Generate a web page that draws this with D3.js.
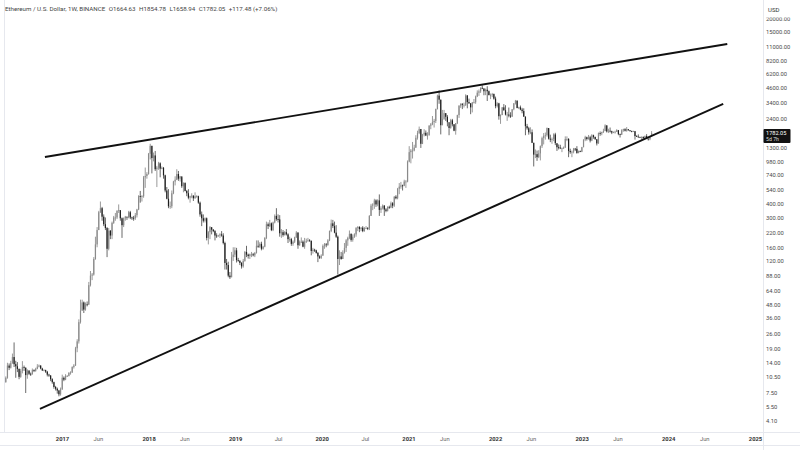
<!DOCTYPE html>
<html><head><meta charset="utf-8">
<script src="https://cdn.jsdelivr.net/npm/d3@7"></script>
<style>
body{margin:0;background:#fff}
svg{display:block;font-family:Roboto,"Liberation Sans",Arial,sans-serif}
</style>
</head><body>
<svg id="chart" width="800" height="450"></svg>
<script>
// ---------- DATA ----------
const startWeek = "2016-05-02";          // Monday of first weekly bar
const firstOpen = 8.9;                   // open of the first bar
// weekly closes (open of each later bar = previous close)
const closes = [
 9.3,10.2,13.2,12.6,13.9, 15.8,13.6,13.0,12.3, 10.4,11.8,12.8,12.6, 10.8,11.9,11.1,11.0,12.0, 11.8,12.3,12.9,13.2, 12.4,11.9,12.0,11.6,10.9, 10.7,9.9,9.3,8.4, 8.1,7.8,7.2,8.0,
 10.2,9.8,10.6,10.6,11.3, 11.4,12.8,13.2,19.0, 22,33,42,50, 43,48,47.5,72, 88,90,125,170,230, 335,365,305,260, 240,155,227,205,268, 300,300,345,350, 295,255,295,305, 300,335,300,298,295, 315,355,470,465, 470,700,720,750,
 1150,1360,1050,1110,830, 860,940,840,855, 730,530,445,380, 380,500,640,665,750, 680,715,580,620, 525,500,455,470, 475,450,470,470,410, 320,295,280,295, 195,220,245,232, 225,205,202,205,210, 205,175,115,110, 88,85,130,137,150,
 122,120,115,107, 120,145,137,133, 138,138,135,142, 165,162,172,155,162, 195,260,250,265, 230,270,310,290, 288,215,220,207,220, 210,190,190,172, 180,197,218,167,180, 180,162,181,183, 185,183,148,152, 150,142,132,128,134,
 165,170,168,185, 225,265,250,218, 200,125,132,125,143, 158,185,195,212, 187,200,210,240, 245,235,242,225,240, 240,238,310,385, 395,430,395,430,352, 365,385,355,345, 375,370,405,385, 465,450,550,575,590, 585,640,640,975,
 1190,1230,1230,1310, 1610,1780,1935,1420, 1725,1790,1690,1690,2080, 2140,2240,2300,2950, 3920,3600,2100,2400,2710, 2510,2240,1985,2330, 2140,1870,2190,2600, 3170,3300,3230,3230,3930, 3420,3330,3060,3390, 3410,3850,4170,4290, 4620,4570,4300,4440,4300, 3960,3960,4050,3680,
 3140,3330,2540,2600,3060, 2880,2630,2630,2570, 2520,2940,3330,3520, 3020,3060,2920,2830, 2520,2060,1970,1810,1810, 1450,1130,1140,1070, 1160,1350,1600,1680, 1700,1980,1580,1550,1570, 1730,1440,1320,1310, 1290,1300,1310,1570,1570, 1220,1190,1200,1280, 1275,1170,1220,1200,
 1320,1550,1630,1570,1630, 1520,1700,1640,1560, 1430,1780,1770,1820, 1860,2090,1840,1870, 1850,1800,1810,1830,1890, 1740,1720,1890,1930, 1870,1930,1890,1860,1830, 1850,1670,1650,1630, 1620,1640,1590,1670, 1580,1560,1664.63,1782.05
];
const highs = [
 9.8,10.5,14.0,13.8,14.6, 17.0,21.5,14.6,14.2, 12.4,12.3,14.5,13.2, 12.7,12.2,11.9,11.4,12.4, 12.2,12.6,13.6,13.5, 13.3,12.6,12.2,12.1,11.8, 11.1,10.8,10.1,9.4, 8.6,8.3,7.9,8.3,
 10.9,10.5,11.0,10.8,11.5, 11.7,13.0,13.6,19.6, 23,35,53,53, 51,50,51,77, 97,93,130,200,245, 345,420,375,320, 300,245,240,230,275, 310,330,350,395, 350,300,300,310, 305,345,345,305,310, 330,360,480,525, 480,720,860,780,
 1170,1420,1360,1180,1220, 890,970,960,880, 870,740,570,545, 420,530,650,715,830, 800,720,700,630, 630,535,545,475, 500,480,510,480,475, 420,340,320,300, 300,225,250,240, 235,230,215,208,215, 225,215,180,125, 118,95,145,160,160,
 158,128,122,117, 125,148,165,140, 140,145,142,145, 185,185,178,180,165, 198,275,270,285, 270,275,320,365, 320,315,235,230,225, 235,215,200,195, 185,200,225,220,185, 197,185,195,192, 195,190,185,158, 155,152,145,135,138,
 170,175,175,190, 228,287,285,275, 255,205,150,145,150, 175,190,200,228, 215,210,215,245, 250,250,245,250,245, 250,245,315,400, 405,445,440,440,488, 380,395,390,365, 380,385,420,415, 470,480,560,620,635, 600,665,660,1000,
 1350,1270,1475,1390, 1700,1870,2040,1940, 1750,1930,1880,1810,2100, 2200,2550,2400,2980, 4000,4380,3600,2900,2900, 2700,2600,2050,2400, 2400,2150,2200,2620, 3200,3330,3340,3380,4030, 3970,3680,3350,3430, 3650,3920,4380,4460, 4670,4870,4550,4550,4780, 4370,4100,4150,4100,
 3840,3410,3370,2640,3080, 3280,3200,2780,3050, 2760,2950,3350,3580, 3550,3100,3180,3030, 3000,2520,2160,2030,2010, 1920,1450,1260,1230, 1240,1370,1650,1780, 1800,2000,1950,1720,1620, 1770,1790,1420,1400, 1390,1310,1340,1660,1660, 1600,1280,1230,1300, 1300,1350,1230,1230,
 1330,1560,1680,1650,1710, 1680,1740,1720,1650, 1570,1800,1840,1830, 1950,2140,2100,1950, 2000,1870,1840,1870,1930, 1900,1760,1930,1950, 1970,2020,1930,1890,1870, 1870,1860,1700,1730, 1650,1660,1660,1690, 1740,1590,1670,1854.78
];
const lows = [
 8.6,9.2,10.0,12.0,12.4, 13.7,12.8,10.2,11.5, 9.9,10.2,11.2,11.8, 7.4,10.0,10.8,10.6,10.9, 11.5,11.6,12.2,12.7, 12.2,11.8,11.7,11.3,10.5, 10.4,9.5,9.0,8.1, 7.8,7.3,6.9,7.0,
 7.9,9.5,9.7,10.4,10.5, 10.9,11.3,12.4,13.1, 17.5,21,32,42, 40,42,46,48, 70,80,88,123,160, 230,330,280,250, 230,130,150,190,190, 262,280,290,330, 280,195,245,280, 285,295,290,285,280, 285,300,350,410, 420,455,560,680,
 740,1020,760,980,800, 570,820,700,830, 680,510,440,365, 360,365,490,590,660, 650,640,560,510, 520,470,440,410, 450,425,445,455,400, 305,250,270,270, 185,170,190,210, 220,185,195,200,195, 200,170,100,100, 85,82,85,120,130,
 116,118,110,102, 104,118,130,126, 125,130,132,130, 140,158,158,150,152, 160,190,235,245, 225,225,265,280, 270,200,195,200,205, 205,175,180,165, 165,175,195,155,165, 175,160,155,175, 180,180,135,140, 145,140,117,125,125,
 134,155,160,165, 182,220,240,215, 195,90,110,123,125, 140,145,165,190, 180,180,195,200, 225,220,225,220,222, 235,230,230,310, 350,360,375,380,310, 330,355,310,335, 340,360,365,365, 375,440,440,490,550, 530,580,560,630,
 960,940,1040,1210, 1300,1550,1740,1300, 1410,1660,1670,1550,1700, 1930,2100,2000,2200, 2930,3300,1730,2100,2350, 2300,2050,1700,1950, 2050,1850,1720,2150, 2450,3030,2950,3050,3150, 3000,3300,2650,2750, 3320,3300,3800,3900, 4150,4500,3950,3960,3500, 3950,3640,3800,3600,
 3000,3050,2360,2160,2600, 2850,2580,2300,2480, 2450,2500,2880,3250, 3000,2950,2880,2700, 2500,1700,1910,1720,1740, 1440,880,1050,990, 1050,1000,1300,1400, 1550,1650,1550,1470,1420, 1500,1380,1220,1260, 1270,1190,1270,1300,1500, 1070,1150,1070,1160, 1220,1150,1160,1190,
 1190,1320,1500,1520,1550, 1460,1500,1580,1550, 1370,1420,1680,1700, 1780,1850,1800,1780, 1800,1740,1780,1760,1820, 1700,1620,1710,1830, 1840,1830,1870,1830,1810, 1820,1550,1640,1620, 1610,1530,1580,1570, 1570,1520,1530,1658.94
];
const yTickValues = [20000,15000,11000,8200,6200,4600,3400,2400,1300,980,740,540,400,300,220,160,120,88,64,48,36,26,19,14,10.5,7.5,5.5,4.1];
const xTickDates = ["2017-01-01","2017-06-01","2018-01-01","2018-06-01","2019-01-01","2019-07-01","2020-01-01","2020-07-01","2021-01-01","2021-06-01","2022-01-01","2022-06-01","2023-01-01","2023-06-01","2024-01-01","2024-06-01","2025-01-01"];
const xTickLabels = ["2017","Jun","2018","Jun","2019","Jul","2020","Jul","2021","Jun","2022","Jun","2023","Jun","2024","Jun","2025"];
const trendUpper = [["2016-10-21",1075],["2024-09-06",11650]];
const trendLower = [["2016-09-30",5.29],["2024-08-20",3287]];
const symbolTitle = "Ethereum / U.S. Dollar, 1W, BINANCE";
const ohlcLabels = ["O1664.63","H1854.78","L1658.94","C1782.05","+117.48 (+7.06%)"];
const lastPrice = 1782.05;
const countdown = "5d 7h";
const currency = "USD";

// ---------- LAYOUT ----------
const W = 800, H = 450;
const plotRight = 763, plotBottom = 432;
const svg = d3.select("#chart");
const parse = d3.utcParse("%Y-%m-%d");

const x = d3.scaleUtc().domain([parse("2017-01-01"), parse("2025-01-01")]).range([62, 755]);
const y = d3.scaleLog().domain([4.1, 15000]).range([421, 32]);

const start = parse(startWeek);
const bars = closes.map((c, i) => ({
  date: d3.utcMonday.offset(start, i),
  o: i === 0 ? firstOpen : closes[i - 1],
  h: highs[i], l: lows[i], c: c
}));

// frame lines
const frame = svg.append("g").attr("stroke", "#e6e8ee").attr("stroke-width", 1);
frame.append("line").attr("x1", 4.5).attr("x2", 4.5).attr("y1", 0).attr("y2", plotBottom);
frame.append("line").attr("x1", 0).attr("x2", W).attr("y1", plotBottom + 0.5).attr("y2", plotBottom + 0.5);
frame.append("line").attr("x1", 0).attr("x2", W).attr("y1", 445.5).attr("y2", 445.5);
frame.append("line").attr("x1", plotRight + 0.5).attr("x2", plotRight + 0.5).attr("y1", 0).attr("y2", H);

// clip
svg.append("clipPath").attr("id", "plotclip").append("rect")
  .attr("x", 5).attr("y", 0).attr("width", plotRight - 5).attr("height", plotBottom);
const plot = svg.append("g").attr("clip-path", "url(#plotclip)");

// candles
const upCol = "#8a8a8a", downCol = "#1e1e1e";
const cg = plot.append("g");
const cs = cg.selectAll("g").data(bars).join("g");
cs.append("line")
  .attr("x1", d => x(d.date)).attr("x2", d => x(d.date))
  .attr("y1", d => y(d.h)).attr("y2", d => y(d.l))
  .attr("stroke", d => d.c >= d.o ? "#6e6e6e" : "#2a2a2a")
  .attr("stroke-width", 0.7);
cs.append("rect")
  .attr("x", d => x(d.date) - 0.6).attr("width", 1.2)
  .attr("y", d => Math.min(y(d.o), y(d.c)))
  .attr("height", d => Math.max(0.8, Math.abs(y(d.o) - y(d.c))))
  .attr("fill", d => d.c >= d.o ? upCol : downCol);

// trend lines
const lineGen = d3.line().x(d => x(parse(d[0]))).y(d => y(d[1]));
[trendUpper, trendLower].forEach(t => {
  plot.append("path").attr("d", lineGen(t)).attr("fill", "none")
    .attr("stroke", "#111").attr("stroke-width", 1.9).attr("stroke-linecap", "butt");
});

// y axis
const yAxis = d3.axisRight(y).tickValues(yTickValues).tickFormat(d3.format(".2f")).tickSize(0).tickPadding(3);
const ya = svg.append("g").attr("transform", `translate(${plotRight},0)`).call(yAxis);
ya.select(".domain").remove();
ya.selectAll("text").attr("font-size", 5.8).attr("fill", "#4a4a4a").attr("font-family", "Roboto, 'Liberation Sans', sans-serif");

// currency label box (covers top clipped label)
svg.append("rect").attr("x", plotRight + 1).attr("y", 0).attr("width", W - plotRight - 1).attr("height", 17.5).attr("fill", "#fff");
svg.append("text").attr("x", 768).attr("y", 12).attr("font-size", 6).attr("fill", "#333").text(currency);

// last price tag
const ly = y(lastPrice);
svg.append("rect").attr("x", plotRight + 0.5).attr("y", ly - 4).attr("width", 27).attr("height", 14).attr("fill", "#111").attr("rx", 1);
svg.append("text").attr("x", 766).attr("y", ly + 2.3).attr("font-size", 5.6).attr("fill", "#fff").text(d3.format(".2f")(lastPrice));
svg.append("text").attr("x", 766).attr("y", ly + 8.3).attr("font-size", 5.2).attr("fill", "#ddd").text(countdown);

// x axis
const xAxis = d3.axisBottom(x).tickValues(xTickDates.map(parse))
  .tickFormat((d, i) => xTickLabels[i]).tickSize(0).tickPadding(5);
const xa = svg.append("g").attr("transform", `translate(0,${plotBottom})`).call(xAxis);
xa.select(".domain").remove();
xa.selectAll("text").attr("font-size", 5.8).attr("font-family", "Roboto, 'Liberation Sans', sans-serif")
  .attr("fill", (d, i) => /^\d{4}$/.test(xTickLabels[i]) ? "#333" : "#666")
  .attr("font-weight", (d, i) => /^\d{4}$/.test(xTickLabels[i]) ? 700 : 400);

// header
const ht = svg.append("text").attr("x", 5).attr("y", 11).attr("font-size", 6.2).attr("fill", "#444");
ht.append("tspan").text(symbolTitle);
ohlcLabels.forEach(s => ht.append("tspan").attr("dx", 3.5).text(s));
</script>
</body></html>
